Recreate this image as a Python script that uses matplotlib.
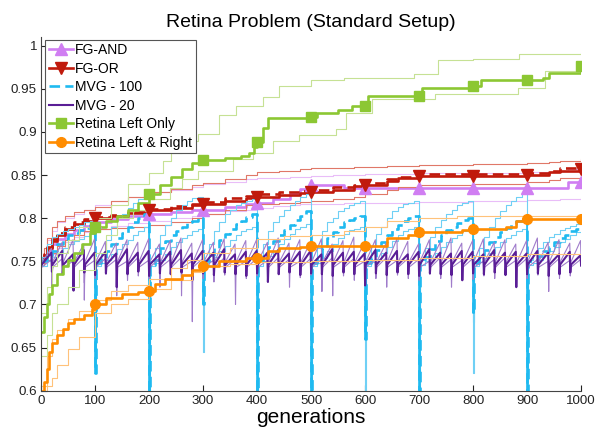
import numpy as np
import matplotlib
matplotlib.use('Agg')
import matplotlib.pyplot as plt
from matplotlib.lines import Line2D
from matplotlib.ticker import FuncFormatter

plt.rcParams['font.family'] = ['Liberation Sans', 'DejaVu Sans']

# ---- data ----
marker_gens = [100, 200, 300, 400, 500, 600, 700, 800, 900, 1000]

# FG-AND
and_gen = [0, 5, 10, 20, 30, 45, 60, 80, 100, 130, 160, 200, 240, 280, 300, 340, 380, 400,
           430, 460, 480, 500, 540, 560, 600, 700, 800, 900, 960, 975, 1000]
and_mean = [0.75, 0.755, 0.762, 0.77, 0.776, 0.782, 0.786, 0.791, 0.795, 0.799, 0.802, 0.805,
            0.807, 0.809, 0.81, 0.813, 0.816, 0.818, 0.822, 0.828, 0.834, 0.838, 0.838, 0.835,
            0.835, 0.835, 0.835, 0.835, 0.835, 0.842, 0.842]
and_upper = [0.755, 0.765, 0.775, 0.785, 0.795, 0.8, 0.805, 0.81, 0.815, 0.82, 0.825, 0.83,
             0.833, 0.836, 0.84, 0.842, 0.845, 0.846, 0.847, 0.848, 0.848, 0.849, 0.85, 0.85,
             0.851, 0.852, 0.852, 0.853, 0.855, 0.857, 0.858]
and_lower = [0.745, 0.748, 0.752, 0.758, 0.765, 0.772, 0.778, 0.784, 0.788, 0.791, 0.794, 0.797,
             0.8, 0.803, 0.805, 0.808, 0.81, 0.812, 0.814, 0.815, 0.816, 0.816, 0.817, 0.818,
             0.818, 0.819, 0.82, 0.821, 0.822, 0.822, 0.823]

# FG-OR
or_gen = [0, 5, 10, 20, 30, 45, 60, 80, 100, 130, 160, 200, 240, 280, 300, 340, 380, 400, 440,
          480, 500, 540, 580, 600, 640, 660, 700, 800, 900, 940, 960, 1000]
or_mean = [0.75, 0.757, 0.765, 0.774, 0.781, 0.788, 0.793, 0.797, 0.8, 0.803, 0.806, 0.81, 0.812,
           0.815, 0.817, 0.82, 0.823, 0.825, 0.827, 0.829, 0.83, 0.833, 0.837, 0.839, 0.843, 0.846,
           0.849, 0.849, 0.85, 0.853, 0.855, 0.857]
or_alt = [0.75, 0.758, 0.766, 0.776, 0.783, 0.79, 0.795, 0.799, 0.801, 0.804, 0.807, 0.811,
          0.814, 0.817, 0.819, 0.823, 0.826, 0.828, 0.83, 0.832, 0.833, 0.836, 0.839, 0.841,
          0.845, 0.848, 0.851, 0.851, 0.852, 0.855, 0.858, 0.86]
or_upper = [0.755, 0.765, 0.777, 0.79, 0.797, 0.803, 0.807, 0.81, 0.813, 0.82, 0.825, 0.83,
            0.834, 0.838, 0.841, 0.845, 0.85, 0.853, 0.855, 0.857, 0.858, 0.858, 0.859, 0.859,
            0.86, 0.861, 0.862, 0.863, 0.864, 0.865, 0.866, 0.869]
or_lower = [0.745, 0.748, 0.752, 0.76, 0.768, 0.775, 0.78, 0.785, 0.788, 0.789, 0.79, 0.792,
            0.795, 0.8, 0.805, 0.81, 0.815, 0.816, 0.818, 0.819, 0.82, 0.822, 0.825, 0.828,
            0.833, 0.836, 0.838, 0.84, 0.842, 0.844, 0.846, 0.849]

# MVG - 100: per 100-gen cycle, value at switch (dip) and values at offsets 1,10,...,90
m100_offsets = [1, 10, 20, 30, 40, 50, 60, 70, 80, 90]
m100_mean_dip = [0.75, 0.62, 0.59, 0.70, 0.59, 0.59, 0.66, 0.59, 0.69, 0.59]
m100_mean = [
    [0.75, 0.755, 0.762, 0.77, 0.776, 0.78, 0.783, 0.786, 0.789, 0.792],
    [0.748, 0.754, 0.762, 0.77, 0.777, 0.783, 0.79, 0.795, 0.8, 0.805],
    [0.746, 0.752, 0.765, 0.773, 0.78, 0.785, 0.79, 0.795, 0.797, 0.8],
    [0.75, 0.757, 0.765, 0.775, 0.782, 0.788, 0.793, 0.797, 0.801, 0.805],
    [0.75, 0.756, 0.766, 0.774, 0.78, 0.786, 0.792, 0.798, 0.803, 0.808],
    [0.748, 0.755, 0.765, 0.777, 0.784, 0.79, 0.795, 0.798, 0.8, 0.802],
    [0.748, 0.754, 0.763, 0.772, 0.78, 0.787, 0.792, 0.797, 0.8, 0.803],
    [0.749, 0.755, 0.764, 0.773, 0.78, 0.786, 0.79, 0.794, 0.798, 0.8],
    [0.748, 0.755, 0.763, 0.772, 0.778, 0.784, 0.789, 0.793, 0.797, 0.801],
    [0.75, 0.752, 0.756, 0.762, 0.767, 0.772, 0.777, 0.781, 0.785, 0.788],
]
m100_up_dip = [0.75, 0.68, 0.64, 0.645, 0.70, 0.66, 0.59, 0.68, 0.62, 0.70]
m100_upper = [
    [0.755, 0.77, 0.778, 0.782, 0.785, 0.788, 0.79, 0.792, 0.795, 0.797],
    [0.75, 0.76, 0.775, 0.79, 0.8, 0.805, 0.812, 0.818, 0.822, 0.825],
    [0.75, 0.765, 0.78, 0.792, 0.8, 0.81, 0.815, 0.82, 0.823, 0.825],
    [0.752, 0.77, 0.785, 0.795, 0.805, 0.81, 0.815, 0.818, 0.82, 0.822],
    [0.752, 0.77, 0.785, 0.795, 0.803, 0.81, 0.815, 0.82, 0.825, 0.828],
    [0.75, 0.765, 0.785, 0.795, 0.8, 0.808, 0.812, 0.815, 0.818, 0.82],
    [0.75, 0.768, 0.782, 0.79, 0.8, 0.808, 0.813, 0.816, 0.818, 0.82],
    [0.752, 0.765, 0.778, 0.79, 0.798, 0.805, 0.81, 0.815, 0.818, 0.82],
    [0.75, 0.765, 0.778, 0.79, 0.8, 0.808, 0.815, 0.82, 0.825, 0.83],
    [0.752, 0.758, 0.765, 0.772, 0.778, 0.782, 0.786, 0.789, 0.791, 0.793],
]
m100_lo_dip = [0.75, 0.64, 0.59, 0.70, 0.59, 0.59, 0.70, 0.59, 0.68, 0.62]
m100_lower = [
    [0.745, 0.75, 0.755, 0.76, 0.765, 0.77, 0.773, 0.776, 0.779, 0.782],
    [0.745, 0.748, 0.752, 0.758, 0.764, 0.77, 0.775, 0.78, 0.785, 0.79],
    [0.744, 0.748, 0.752, 0.758, 0.766, 0.772, 0.777, 0.781, 0.785, 0.788],
    [0.746, 0.75, 0.755, 0.762, 0.768, 0.775, 0.78, 0.785, 0.788, 0.79],
    [0.745, 0.75, 0.756, 0.762, 0.77, 0.776, 0.782, 0.787, 0.79, 0.793],
    [0.745, 0.748, 0.754, 0.762, 0.77, 0.777, 0.782, 0.786, 0.788, 0.79],
    [0.745, 0.749, 0.753, 0.76, 0.767, 0.774, 0.78, 0.785, 0.788, 0.79],
    [0.746, 0.75, 0.754, 0.76, 0.766, 0.772, 0.777, 0.781, 0.785, 0.788],
    [0.745, 0.749, 0.754, 0.76, 0.766, 0.772, 0.777, 0.781, 0.785, 0.788],
    [0.746, 0.748, 0.752, 0.757, 0.762, 0.767, 0.772, 0.776, 0.78, 0.784],
]

# MVG - 20: per 20-gen cycle, dip at the switch and peak just before the next switch
m20_start = {'mean': 0.746, 'upper': 0.749, 'lower': 0.743}
m20_mean_dip = [0.745, 0.738, 0.735, 0.716, 0.737, 0.734, 0.736, 0.72, 0.735, 0.738,
                0.733, 0.736, 0.735, 0.737, 0.728, 0.736, 0.734, 0.737, 0.735, 0.733,
                0.736, 0.726, 0.735, 0.737, 0.734, 0.736, 0.735, 0.733, 0.737, 0.735,
                0.722, 0.736, 0.734, 0.737, 0.735, 0.733, 0.736, 0.735, 0.734, 0.728,
                0.736, 0.735, 0.737, 0.734, 0.72, 0.735, 0.736, 0.733, 0.735, 0.737]
m20_mean_peak = [0.76, 0.762, 0.758, 0.763, 0.76, 0.761, 0.759, 0.764, 0.76, 0.762,
                 0.758, 0.761, 0.763, 0.759, 0.762, 0.76, 0.764, 0.758, 0.761, 0.762,
                 0.76, 0.763, 0.759, 0.761, 0.762, 0.758, 0.764, 0.76, 0.761, 0.759,
                 0.763, 0.76, 0.762, 0.758, 0.761, 0.764, 0.76, 0.759, 0.762, 0.761,
                 0.758, 0.763, 0.76, 0.761, 0.759, 0.762, 0.76, 0.758, 0.761, 0.757]
m20_up_dip = [0.75, 0.745, 0.742, 0.748, 0.705, 0.745, 0.74, 0.746, 0.743, 0.745,
              0.742, 0.746, 0.744, 0.71, 0.745, 0.743, 0.746, 0.742, 0.745, 0.744,
              0.746, 0.743, 0.745, 0.742, 0.746, 0.744, 0.715, 0.745, 0.743, 0.746,
              0.744, 0.742, 0.746, 0.745, 0.743, 0.744, 0.746, 0.742, 0.745, 0.744,
              0.743, 0.746, 0.745, 0.744, 0.742, 0.746, 0.745, 0.743, 0.744, 0.746]
m20_up_peak = [0.765, 0.772, 0.775, 0.77, 0.776, 0.773, 0.771, 0.775, 0.772, 0.776,
               0.77, 0.774, 0.777, 0.771, 0.775, 0.772, 0.776, 0.77, 0.774, 0.775,
               0.772, 0.777, 0.771, 0.775, 0.773, 0.776, 0.77, 0.774, 0.778, 0.772,
               0.775, 0.771, 0.776, 0.773, 0.77, 0.775, 0.772, 0.777, 0.771, 0.774,
               0.776, 0.772, 0.775, 0.77, 0.774, 0.777, 0.772, 0.775, 0.771, 0.774]
m20_lo_dip = [0.745, 0.72, 0.735, 0.73, 0.725, 0.73, 0.735, 0.71, 0.728, 0.733,
              0.73, 0.72, 0.735, 0.732, 0.68, 0.73, 0.726, 0.734, 0.70, 0.73,
              0.733, 0.728, 0.735, 0.72, 0.731, 0.734, 0.73, 0.71, 0.733, 0.728,
              0.735, 0.73, 0.72, 0.734, 0.73, 0.728, 0.735, 0.73, 0.72, 0.734,
              0.729, 0.733, 0.73, 0.735, 0.728, 0.73, 0.734, 0.715, 0.73, 0.733]
m20_lo_peak = [0.752, 0.753, 0.75, 0.754, 0.751, 0.753, 0.752, 0.75, 0.754, 0.751,
               0.753, 0.752, 0.754, 0.75, 0.753, 0.751, 0.754, 0.752, 0.75, 0.753,
               0.751, 0.754, 0.752, 0.75, 0.753, 0.752, 0.754, 0.751, 0.753, 0.75,
               0.752, 0.754, 0.751, 0.753, 0.752, 0.75, 0.754, 0.752, 0.751, 0.753,
               0.75, 0.752, 0.754, 0.751, 0.753, 0.752, 0.75, 0.753, 0.751, 0.752]

# Retina Left Only
grn_gen = [0, 5, 10, 15, 20, 30, 40, 50, 60, 75, 90, 100, 120, 140, 160, 180, 200, 220, 240,
           260, 280, 300, 340, 370, 385, 395, 400, 410, 420, 500, 510, 550, 575, 605, 700, 705,
           800, 815, 930, 940, 1000]
grn_mean = [0.668, 0.685, 0.70, 0.712, 0.722, 0.735, 0.745, 0.752, 0.76, 0.77, 0.783, 0.79,
            0.797, 0.803, 0.81, 0.818, 0.828, 0.838, 0.848, 0.857, 0.864, 0.868, 0.87, 0.872,
            0.876, 0.882, 0.888, 0.905, 0.916, 0.917, 0.922, 0.925, 0.93, 0.942, 0.942, 0.951,
            0.953, 0.96, 0.962, 0.968, 0.977]
grn_up_gen = [0, 10, 20, 30, 50, 70, 100, 130, 160, 200, 225, 240, 260, 290, 330, 360, 410,
              440, 500, 560, 690, 735, 800, 885, 1000]
grn_upper = [0.69, 0.72, 0.745, 0.76, 0.775, 0.79, 0.8, 0.815, 0.84, 0.852, 0.866, 0.875, 0.89,
             0.898, 0.92, 0.93, 0.94, 0.953, 0.96, 0.962, 0.967, 0.983, 0.985, 0.99, 0.992]
grn_lo_gen = [0, 10, 20, 30, 50, 70, 100, 120, 140, 170, 200, 238, 260, 290, 355, 392, 430,
              478, 546, 564, 613, 730, 884, 933, 1000]
grn_lower = [0.64, 0.665, 0.69, 0.70, 0.72, 0.74, 0.76, 0.78, 0.80, 0.81, 0.822, 0.835, 0.845,
             0.855, 0.869, 0.876, 0.89, 0.897, 0.903, 0.922, 0.938, 0.944, 0.951, 0.971, 0.974]

# Retina Left & Right
org_gen = [0, 5, 10, 15, 20, 30, 40, 50, 60, 80, 95, 100, 120, 150, 180, 200, 210, 230, 260,
           280, 295, 300, 330, 380, 420, 440, 480, 500, 600, 640, 680, 700, 780, 800, 860, 880,
           900, 1000]
org_mean = [0.6, 0.61, 0.625, 0.645, 0.655, 0.665, 0.672, 0.678, 0.683, 0.688, 0.695, 0.70,
            0.707, 0.712, 0.714, 0.716, 0.724, 0.73, 0.734, 0.74, 0.744, 0.745, 0.75, 0.754,
            0.762, 0.765, 0.767, 0.768, 0.768, 0.777, 0.78, 0.784, 0.786, 0.788, 0.79, 0.797,
            0.799, 0.799]
org_up_gen = [0, 10, 20, 30, 50, 70, 100, 130, 160, 200, 240, 270, 300, 350, 400, 450, 500,
              560, 600, 640, 700, 770, 850, 1000]
org_upper = [0.605, 0.64, 0.66, 0.67, 0.683, 0.692, 0.705, 0.715, 0.722, 0.729, 0.742, 0.752,
             0.76, 0.765, 0.776, 0.779, 0.781, 0.785, 0.79, 0.797, 0.80, 0.802, 0.803, 0.804]
org_lo_gen = [0, 10, 20, 30, 50, 70, 100, 130, 160, 200, 240, 280, 300, 350, 400, 500, 600,
              700, 800, 900, 1000]
org_lower = [0.6, 0.605, 0.615, 0.63, 0.648, 0.662, 0.69, 0.70, 0.706, 0.718, 0.728, 0.738,
             0.744, 0.747, 0.749, 0.75, 0.752, 0.754, 0.756, 0.758, 0.759]

# ---- colours ----
c_and, c_and_l = '#d07ef2', '#e9bdf8'
c_or, c_or_l = '#c01a0c', '#e07868'
c_m100, c_m100_l = '#1fbaf0', '#6fd0f5'
c_m20, c_m20_l = '#5a1e96', '#a07ccb'
c_grn, c_grn_l = '#8cc733', '#c6e194'
c_org, c_org_l = '#ff8c00', '#ffc27a'


def m100_line(dips, cycles):
    xs, ys = [], []
    for c, (d, vals) in enumerate(zip(dips, cycles)):
        base = 100 * c
        xs.append(base)
        ys.append(d)
        for off, v in zip(m100_offsets, vals):
            xs.append(base + off)
            ys.append(v)
    xs.append(1000)
    ys.append(cycles[-1][-1])
    return xs, ys


def m20_line(dips, peaks, start):
    xs, ys = [], []
    for k, (d, p) in enumerate(zip(dips, peaks)):
        base = 20 * k
        xs += [base, base + 1, base + 19]
        ys += [d, start, p]
    xs.append(1000)
    ys.append(dips[0])
    return xs, ys


def step_at(gens, vals, where):
    idx = np.searchsorted(gens, where, side='right') - 1
    return np.asarray(vals)[idx]


fig = plt.figure(figsize=(5.96, 4.36), dpi=100)
ax = fig.add_axes([0.069, 0.104, 0.906, 0.811])

thin, thick = 0.8, 1.9

# FG-AND
ax.plot(and_gen, and_upper, color=c_and_l, lw=thin, drawstyle='steps-post')
ax.plot(and_gen, and_lower, color=c_and_l, lw=thin, drawstyle='steps-post')
ax.plot(and_gen, and_mean, color=c_and, lw=thick, drawstyle='steps-post')

# FG-OR
ax.plot(or_gen, or_upper, color=c_or_l, lw=thin, drawstyle='steps-post')
ax.plot(or_gen, or_lower, color=c_or_l, lw=thin, drawstyle='steps-post')
ax.plot(or_gen, or_alt, color=c_or, lw=thick, ls=(0, (4, 2)), drawstyle='steps-post')
ax.plot(or_gen, or_mean, color=c_or, lw=thick, drawstyle='steps-post')

# MVG - 100
for dips, cyc in [(m100_up_dip, m100_upper), (m100_lo_dip, m100_lower)]:
    x, y = m100_line(dips, cyc)
    ax.plot(x, y, color=c_m100_l, lw=thin, drawstyle='steps-post')
x, y = m100_line(m100_mean_dip, m100_mean)
ax.plot(x, y, color=c_m100, lw=thick, ls=(0, (4, 2)), drawstyle='steps-post')
# the drops at each switch are drawn solid
for c in range(1, len(m100_mean_dip)):
    prev = m100_mean[c - 1][-1]
    ax.plot([100 * c, 100 * c, 100 * c + 1, 100 * c + 1],
            [prev, m100_mean_dip[c], m100_mean_dip[c], m100_mean[c][0]],
            color=c_m100, lw=1.2)

# MVG - 20
for dips, peaks, key in [(m20_up_dip, m20_up_peak, 'upper'), (m20_lo_dip, m20_lo_peak, 'lower')]:
    x, y = m20_line(dips, peaks, m20_start[key])
    ax.plot(x, y, color=c_m20_l, lw=thin)
x, y = m20_line(m20_mean_dip, m20_mean_peak, m20_start['mean'])
ax.plot(x, y, color=c_m20, lw=1.5)

# Retina Left Only
ax.plot(grn_up_gen, grn_upper, color=c_grn_l, lw=thin, drawstyle='steps-post')
ax.plot(grn_lo_gen, grn_lower, color=c_grn_l, lw=thin, drawstyle='steps-post')
ax.plot(grn_gen, grn_mean, color=c_grn, lw=thick, drawstyle='steps-post')

# Retina Left & Right
ax.plot(org_up_gen, org_upper, color=c_org_l, lw=thin, drawstyle='steps-post')
ax.plot(org_lo_gen, org_lower, color=c_org_l, lw=thin, drawstyle='steps-post')
ax.plot(org_gen, org_mean, color=c_org, lw=thick, drawstyle='steps-post')

# markers every 100 generations
mg = np.array(marker_gens)
ax.plot(mg, step_at(and_gen, and_mean, mg), ls='none', marker='^', ms=8, color=c_and, zorder=5)
ax.plot(mg, step_at(or_gen, or_mean, mg), ls='none', marker='v', ms=8, color=c_or, zorder=5)
ax.plot(mg, step_at(grn_gen, grn_mean, mg), ls='none', marker='s', ms=6.5, color=c_grn, zorder=5)
ax.plot(mg, step_at(org_gen, org_mean, mg), ls='none', marker='o', ms=7, color=c_org, zorder=5)

handles = [
    Line2D([], [], color=c_and, lw=thick, marker='^', ms=8),
    Line2D([], [], color=c_or, lw=thick, marker='v', ms=8),
    Line2D([], [], color=c_m100, lw=thick, ls=(0, (4, 2))),
    Line2D([], [], color=c_m20, lw=1.5),
    Line2D([], [], color=c_grn, lw=thick, marker='s', ms=6.5),
    Line2D([], [], color=c_org, lw=thick, marker='o', ms=7),
]
labels = ['FG-AND', 'FG-OR', 'MVG - 100', 'MVG - 20', 'Retina Left Only', 'Retina Left & Right']
leg = ax.legend(handles, labels, loc='upper left', bbox_to_anchor=(0.008, 0.993),
                borderaxespad=0, fontsize=10, numpoints=1, handlelength=1.7,
                handletextpad=0.2, labelspacing=0.33, borderpad=0.25, fancybox=False,
                framealpha=1)
leg.get_frame().set_edgecolor('#555555')
leg.get_frame().set_linewidth(0.8)

ax.set_xlim(0, 1000)
ax.set_ylim(0.6, 1.01)
ax.set_xticks(np.arange(0, 1001, 100))
ax.set_yticks(np.arange(0.6, 1.001, 0.05))
ax.yaxis.set_major_formatter(FuncFormatter(lambda v, p: '%g' % round(v, 2)))
ax.tick_params(direction='in', length=4, labelsize=9.6, colors='#222222', pad=3)
for s in ['top', 'right']:
    ax.spines[s].set_visible(False)
for s in ['left', 'bottom']:
    ax.spines[s].set_color('#444444')
    ax.spines[s].set_linewidth(0.8)

ax.set_title('Retina Problem (Standard Setup)', fontsize=14, pad=7)
ax.set_xlabel('generations', fontsize=15, labelpad=1)

plt.savefig('out.png', dpi=100)
plt.close()
